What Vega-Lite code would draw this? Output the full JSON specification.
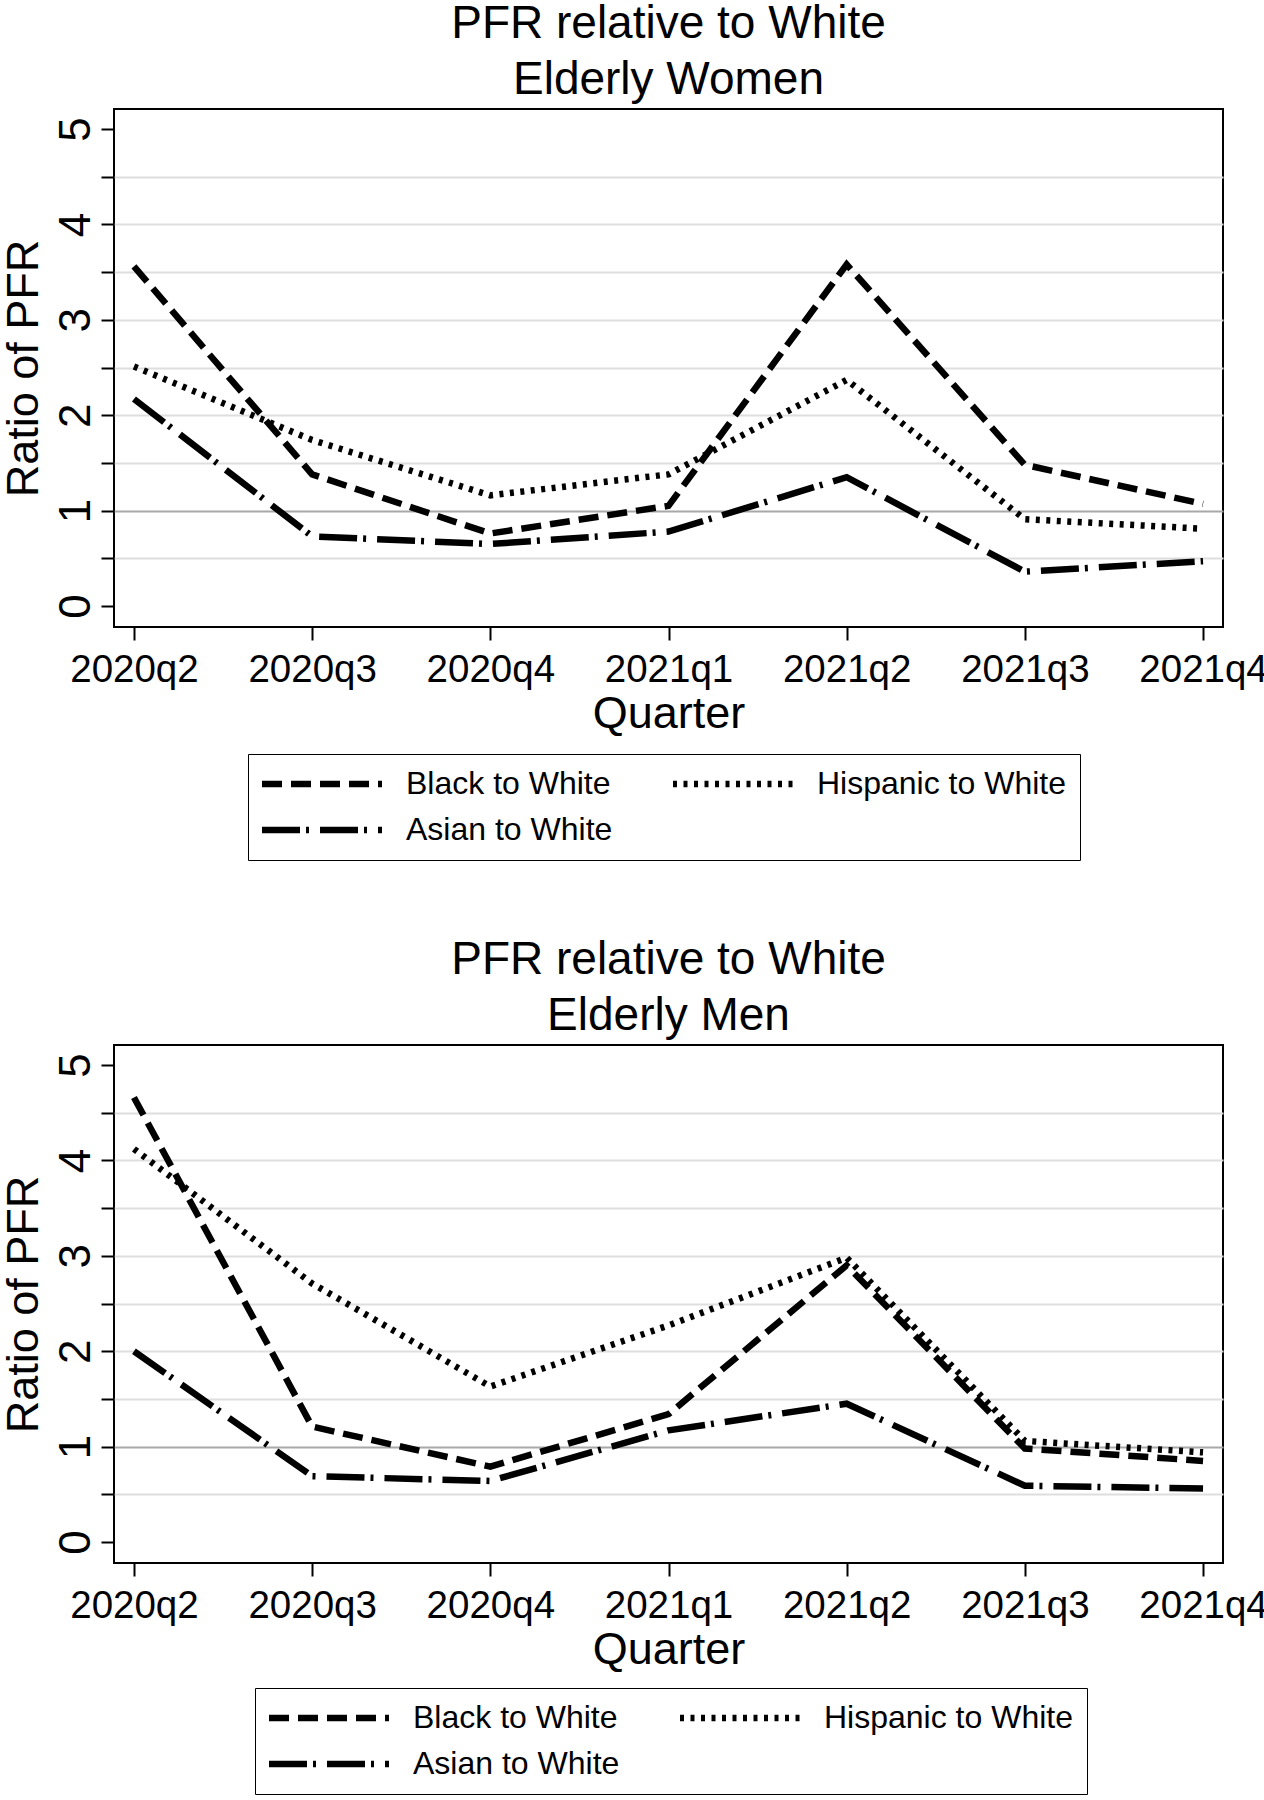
{
  "$schema": "https://vega.github.io/schema/vega-lite/v6.json",
  "background": "white",
  "padding": {"left": 0, "top": 0, "right": 0, "bottom": 0},
  "datasets": {
    "pfr": [
      {"panel": "Elderly Women", "quarter": "2020q2", "group": "Black to White", "ratio": 3.56},
      {"panel": "Elderly Women", "quarter": "2020q3", "group": "Black to White", "ratio": 1.38},
      {"panel": "Elderly Women", "quarter": "2020q4", "group": "Black to White", "ratio": 0.76},
      {"panel": "Elderly Women", "quarter": "2021q1", "group": "Black to White", "ratio": 1.05},
      {"panel": "Elderly Women", "quarter": "2021q2", "group": "Black to White", "ratio": 3.58},
      {"panel": "Elderly Women", "quarter": "2021q3", "group": "Black to White", "ratio": 1.48},
      {"panel": "Elderly Women", "quarter": "2021q4", "group": "Black to White", "ratio": 1.07},
      {"panel": "Elderly Women", "quarter": "2020q2", "group": "Hispanic to White", "ratio": 2.51},
      {"panel": "Elderly Women", "quarter": "2020q3", "group": "Hispanic to White", "ratio": 1.74},
      {"panel": "Elderly Women", "quarter": "2020q4", "group": "Hispanic to White", "ratio": 1.16},
      {"panel": "Elderly Women", "quarter": "2021q1", "group": "Hispanic to White", "ratio": 1.38},
      {"panel": "Elderly Women", "quarter": "2021q2", "group": "Hispanic to White", "ratio": 2.37},
      {"panel": "Elderly Women", "quarter": "2021q3", "group": "Hispanic to White", "ratio": 0.91},
      {"panel": "Elderly Women", "quarter": "2021q4", "group": "Hispanic to White", "ratio": 0.81},
      {"panel": "Elderly Women", "quarter": "2020q2", "group": "Asian to White", "ratio": 2.17},
      {"panel": "Elderly Women", "quarter": "2020q3", "group": "Asian to White", "ratio": 0.73},
      {"panel": "Elderly Women", "quarter": "2020q4", "group": "Asian to White", "ratio": 0.65},
      {"panel": "Elderly Women", "quarter": "2021q1", "group": "Asian to White", "ratio": 0.78},
      {"panel": "Elderly Women", "quarter": "2021q2", "group": "Asian to White", "ratio": 1.35},
      {"panel": "Elderly Women", "quarter": "2021q3", "group": "Asian to White", "ratio": 0.36},
      {"panel": "Elderly Women", "quarter": "2021q4", "group": "Asian to White", "ratio": 0.47},
      {"panel": "Elderly Men", "quarter": "2020q2", "group": "Black to White", "ratio": 4.66},
      {"panel": "Elderly Men", "quarter": "2020q3", "group": "Black to White", "ratio": 1.21},
      {"panel": "Elderly Men", "quarter": "2020q4", "group": "Black to White", "ratio": 0.79},
      {"panel": "Elderly Men", "quarter": "2021q1", "group": "Black to White", "ratio": 1.34},
      {"panel": "Elderly Men", "quarter": "2021q2", "group": "Black to White", "ratio": 2.9},
      {"panel": "Elderly Men", "quarter": "2021q3", "group": "Black to White", "ratio": 0.98},
      {"panel": "Elderly Men", "quarter": "2021q4", "group": "Black to White", "ratio": 0.85},
      {"panel": "Elderly Men", "quarter": "2020q2", "group": "Hispanic to White", "ratio": 4.12},
      {"panel": "Elderly Men", "quarter": "2020q3", "group": "Hispanic to White", "ratio": 2.71},
      {"panel": "Elderly Men", "quarter": "2020q4", "group": "Hispanic to White", "ratio": 1.63},
      {"panel": "Elderly Men", "quarter": "2021q1", "group": "Hispanic to White", "ratio": 2.27},
      {"panel": "Elderly Men", "quarter": "2021q2", "group": "Hispanic to White", "ratio": 2.98},
      {"panel": "Elderly Men", "quarter": "2021q3", "group": "Hispanic to White", "ratio": 1.06},
      {"panel": "Elderly Men", "quarter": "2021q4", "group": "Hispanic to White", "ratio": 0.94},
      {"panel": "Elderly Men", "quarter": "2020q2", "group": "Asian to White", "ratio": 2.0},
      {"panel": "Elderly Men", "quarter": "2020q3", "group": "Asian to White", "ratio": 0.69},
      {"panel": "Elderly Men", "quarter": "2020q4", "group": "Asian to White", "ratio": 0.64},
      {"panel": "Elderly Men", "quarter": "2021q1", "group": "Asian to White", "ratio": 1.17},
      {"panel": "Elderly Men", "quarter": "2021q2", "group": "Asian to White", "ratio": 1.45},
      {"panel": "Elderly Men", "quarter": "2021q3", "group": "Asian to White", "ratio": 0.59},
      {"panel": "Elderly Men", "quarter": "2021q4", "group": "Asian to White", "ratio": 0.56}
    ]
  },
  "bounds": "flush",
  "spacing": 418,
  "vconcat": [
    {
      "data": {"name": "pfr"},
      "transform": [{"filter": "datum.panel === 'Elderly Women'"}],
      "title": {"text": ["PFR relative to White", "Elderly Women"]},
      "width": 1109,
      "height": 518,
      "mark": {"type": "line", "strokeWidth": 6.5, "color": "black", "strokeCap": "butt"},
      "encoding": {
        "x": {"field": "quarter", "type": "ordinal", "scale": {"type": "point", "padding": 0.112}, "axis": {"title": "Quarter"}},
        "y": {"field": "ratio", "type": "quantitative", "scale": {"domain": [-0.22, 5.21], "nice": false, "zero": false}, "axis": {"title": "Ratio of PFR"}},
        "strokeDash": {
          "field": "group", "type": "nominal",
          "scale": {"domain": ["Black to White", "Asian to White", "Hispanic to White"], "range": [[20, 9], [38, 6, 3, 11], [4, 6.5]]},
          "legend": {"legendX": 134, "legendY": 645}
        }
      }
    },
    {
      "data": {"name": "pfr"},
      "transform": [{"filter": "datum.panel === 'Elderly Men'"}],
      "title": {"text": ["PFR relative to White", "Elderly Men"]},
      "width": 1109,
      "height": 518,
      "mark": {"type": "line", "strokeWidth": 6.5, "color": "black", "strokeCap": "butt"},
      "encoding": {
        "x": {"field": "quarter", "type": "ordinal", "scale": {"type": "point", "padding": 0.112}, "axis": {"title": "Quarter"}},
        "y": {"field": "ratio", "type": "quantitative", "scale": {"domain": [-0.22, 5.21], "nice": false, "zero": false}, "axis": {"title": "Ratio of PFR"}},
        "strokeDash": {
          "field": "group", "type": "nominal",
          "scale": {"domain": ["Black to White", "Asian to White", "Hispanic to White"], "range": [[20, 9], [38, 6, 3, 11], [4, 6.5]]},
          "legend": {"legendX": 141, "legendY": 643}
        }
      }
    }
  ],
  "resolve": {"scale": {"strokeDash": "independent"}, "legend": {"strokeDash": "independent"}},
  "config": {
    "font": "Liberation Sans",
    "view": {"stroke": "black", "strokeWidth": 2},
    "title": {"fontSize": 46, "fontWeight": "normal", "color": "black", "anchor": "middle", "frame": "group", "lineHeight": 56, "offset": 5},
    "axis": {
      "domain": false,
      "tickColor": "black",
      "tickWidth": 2,
      "tickSize": 13,
      "labelColor": "black",
      "titleColor": "black",
      "titleFontWeight": "normal",
      "titleFontSize": 45
    },
    "axisX": {"labelAngle": 0, "labelFontSize": 38.5, "labelPadding": 11, "titlePadding": 3, "grid": false},
    "axisY": {
      "values": [0, 0.5, 1, 1.5, 2, 2.5, 3, 3.5, 4, 4.5, 5],
      "labelExpr": "datum.value % 1 === 0 ? format(datum.value, 'd') : ''",
      "labelAngle": 270,
      "labelFontSize": 44,
      "labelPadding": 2.5,
      "labelOverlap": false,
      "labelFlush": false,
      "titlePadding": 8,
      "grid": true,
      "gridWidth": 2,
      "gridColor": {"condition": {"test": "datum.value === 1", "value": "#a8a8a8"}, "value": "#dedede"},
      "gridOpacity": {"condition": {"test": "datum.value === 0 || datum.value === 5", "value": 0}, "value": 1}
    },
    "legend": {
      "orient": "none",
      "title": null,
      "columns": 2,
      "symbolType": "M-1.6,0H10.4",
      "symbolSize": 400,
      "symbolStrokeWidth": 6.5,
      "symbolStrokeColor": "black",
      "labelFontSize": 32,
      "labelColor": "black",
      "labelLimit": 400,
      "labelOffset": 112,
      "columnPadding": 47,
      "rowPadding": 14,
      "padding": 14,
      "strokeColor": "black",
      "fillColor": "white"
    }
  }
}
